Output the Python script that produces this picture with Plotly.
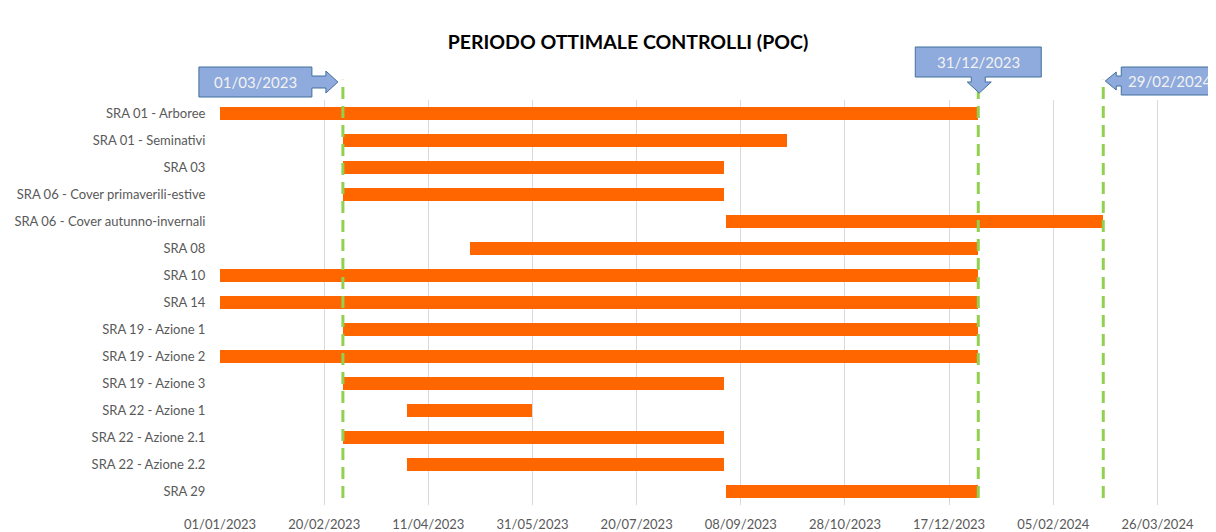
import pandas as pd
import plotly.graph_objects as go

categories = [
    "SRA 01 - Arboree",
    "SRA 01 - Seminativi",
    "SRA 03",
    "SRA 06 - Cover primaverili-estive",
    "SRA 06 - Cover autunno-invernali",
    "SRA 08",
    "SRA 10",
    "SRA 14",
    "SRA 19 - Azione 1",
    "SRA 19 - Azione 2",
    "SRA 19 - Azione 3",
    "SRA 22 - Azione 1",
    "SRA 22 - Azione 2.1",
    "SRA 22 - Azione 2.2",
    "SRA 29",
]
start_dates = [
    "2023-01-01", "2023-03-01", "2023-03-01", "2023-03-01", "2023-09-01",
    "2023-05-01", "2023-01-01", "2023-01-01", "2023-03-01", "2023-01-01",
    "2023-03-01", "2023-04-01", "2023-03-01", "2023-04-01", "2023-09-01",
]
end_dates = [
    "2023-12-31", "2023-09-30", "2023-08-31", "2023-08-31", "2024-02-29",
    "2023-12-31", "2023-12-31", "2023-12-31", "2023-12-31", "2023-12-31",
    "2023-08-31", "2023-05-31", "2023-08-31", "2023-08-31", "2023-12-31",
]
marker_dates = ["2023-03-01", "2023-12-31", "2024-02-29"]
marker_labels = ["01/03/2023", "31/12/2023", "29/02/2024"]
axis_start = "2023-01-01"
axis_end = "2024-04-14"
tick_step_days = 50

durations_ms = (
    (pd.to_datetime(end_dates) - pd.to_datetime(start_dates)).total_seconds() * 1000
).tolist()

# paper fraction of each marker date along the x axis (for unclipped callouts)
t0 = pd.Timestamp(axis_start)
t1 = pd.Timestamp(axis_end)
marker_frac = [(pd.Timestamp(d) - t0) / (t1 - t0) for d in marker_dates]

fig = go.Figure()
fig.add_trace(go.Bar(
    y=categories,
    x=durations_ms,
    base=start_dates,
    orientation="h",
    width=0.45,
    marker=dict(color="#FF6600", line=dict(width=0)),
    hoverinfo="skip",
))

GREEN = "#92D050"
FILL = "#8FAADC"
EDGE = "#41719C"

shapes = []
for d in marker_dates:
    shapes.append(dict(
        type="line", xref="x", yref="paper", x0=d, x1=d, y0=0.017, y1=1.05,
        line=dict(color=GREEN, width=3, dash="12px,7px"), layer="above",
    ))

def poly(points):
    return "M " + " L ".join(f"{x},{y}" for x, y in points) + " Z"

# callout shapes (pixel offsets relative to date anchor / plot top)
right_arrow = poly([(-144, 33), (-31, 33), (-31, 24), (-17, 24), (-17, 29), (-5, 18),
                    (-17, 7), (-17, 12), (-31, 12), (-31, 3), (-144, 3)])
down_arrow = poly([(-63, 53), (63, 53), (63, 23), (7, 23), (7, 18), (13, 18), (1, 7),
                   (-11, 18), (-7, 18), (-7, 23), (-63, 23)])
left_arrow = poly([(18, 33), (115, 33), (115, 5), (18, 5), (18, 14), (13, 14), (13, 10),
                   (2, 19), (13, 28), (13, 24), (18, 24)])
paths = [right_arrow, down_arrow, left_arrow]
text_shift = [(-87, 18), (0, 38), (66, 19)]

for f, p in zip(marker_frac, paths):
    shapes.append(dict(
        type="path", xref="paper", yref="paper", xsizemode="pixel", ysizemode="pixel",
        xanchor=f, yanchor=1, path=p, fillcolor=FILL,
        line=dict(color=EDGE, width=1), layer="above",
    ))

annotations = []
for d, lab, (dx, dy) in zip(marker_dates, marker_labels, text_shift):
    annotations.append(dict(
        xref="x", yref="paper", x=d, y=1, xshift=dx, yshift=dy,
        text=lab, showarrow=False, font=dict(family="Lato", size=15, color="#F2F2F2"),
        xanchor="center", yanchor="middle",
    ))

# page body has an 8px default margin: the figure is sized/offset for it
fig.update_layout(
    width=1208, height=524,
    margin=dict(l=212, r=19, t=92, b=27, autoexpand=False),
    paper_bgcolor="white", plot_bgcolor="white",
    showlegend=False,
    bargap=0,
    title=dict(
        text="<b>PERIODO OTTIMALE CONTROLLI (POC)</b>",
        x=(628 - 8) / 1208, xref="container", xanchor="center",
        y=1 - (42 - 8) / 524, yref="container", yanchor="middle",
        font=dict(family="Lato", size=19.5, color="#000000"),
    ),
    xaxis=dict(
        type="date",
        range=[axis_start, axis_end],
        tick0=axis_start,
        dtick=tick_step_days * 86400000,
        tickformat="%d/%m/%Y",
        showgrid=True, gridcolor="#D9D9D9", gridwidth=1,
        zeroline=False, showline=False,
        ticks="outside", ticklen=7, tickcolor="rgba(0,0,0,0)",
        tickfont=dict(family="Lato", size=13, color="#595959"),
        automargin=False,
        fixedrange=True,
    ),
    yaxis=dict(
        type="category",
        categoryorder="array", categoryarray=categories,
        autorange="reversed",
        showgrid=False, zeroline=False, showline=False,
        ticks="outside", ticklen=11, tickcolor="rgba(0,0,0,0)",
        tickfont=dict(family="Lato", size=13, color="#595959"),
        automargin=False,
        fixedrange=True,
    ),
    shapes=shapes,
    annotations=annotations,
)

fig.write_html("out.html")
